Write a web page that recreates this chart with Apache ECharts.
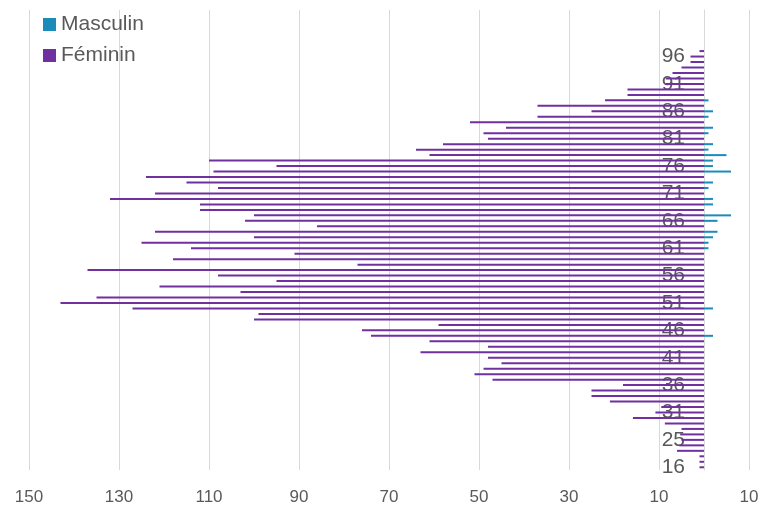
<!DOCTYPE html>
<html>
<head>
<meta charset="utf-8">
<script src="https://cdn.jsdelivr.net/npm/echarts@6/dist/echarts.min.js"></script>
<style>
html,body{margin:0;padding:0;background:#fff;}
#chart{width:763px;height:509px;}
</style>
</head>
<body>
<div id="chart"></div>
<script>
// Age categories (bottom to top)
const ages = [16,19,21,22,24,25,26,27,28,30,31,32,33,34,35,36,37,38,39,40,41,42,43,44,45,46,47,48,49,50,51,52,53,54,55,56,57,58,59,60,61,62,63,64,65,66,67,68,69,70,71,72,73,74,75,76,77,78,79,80,81,82,83,84,85,86,87,88,89,90,91,92,93,94,95,96,97];
// Féminin counts (drawn to the left)
const feminin = [1,1,1,6,5.5,5,5.3,5,8.7,15.8,10.8,9.5,20.9,25,25,18,47,51,49,45,48,63,48,61,74,76,59,100,99,127,143,135,103,121,95,108,137,77,118,91,114,125,100,122,86,102,100,112,112,132,122,108,115,124,109,95,110,61,64,58,48,49,44,52,37,25,37,22,17,17,8.5,8.5,7,5,3,3,1];
// Masculin counts (drawn to the right), keyed by age
const masculinAges = [45,50,61,62,63,64,66,67,69,70,72,73,75,76,77,78,79,80,82,83,85,86,88];
const masculinVals = [2,2,1,1,2,3,3,6,2,2,1,2,6,2,2,5,1,2,1,2,1,2,1];
// Axis ticks
const xMin = -150, xMax = 10, xStep = 20;
const emptyTopSlots = 7;

const cats = ages.map(String).concat(Array(emptyTopSlots).fill(''));
const femData = feminin.map(v => -v);
const masData = ages.map(a => {
  const i = masculinAges.indexOf(a);
  return i >= 0 ? masculinVals[i] : null;
});

const W = 763, gridLeft = 29, gridRight = 14;
const plotW = W - gridLeft - gridRight;
const zeroOffset = plotW * (0 - xMin) / (xMax - xMin);

const chart = echarts.init(document.getElementById('chart'));
chart.setOption({
  animation: false,
  backgroundColor: '#ffffff',
  textStyle: {fontFamily: 'Liberation Sans, Noto Sans, sans-serif'},
  grid: {left: gridLeft, right: gridRight, top: 10, bottom: 39, containLabel: false, outerBoundsMode: 'none'},
  legend: {
    orient: 'vertical', left: 43, top: 14, padding: 0,
    icon: 'rect', itemWidth: 13, itemHeight: 13, itemGap: 10,
    textStyle: {fontSize: 21, color: '#595959'},
    data: ['Masculin', 'Féminin']
  },
  xAxis: {
    type: 'value', min: xMin, max: xMax, interval: xStep,
    axisLine: {show: false}, axisTick: {show: false},
    axisLabel: {fontSize: 17, color: '#595959', margin: 19, formatter: v => Math.abs(v)},
    splitLine: {lineStyle: {color: '#d9d9d9', width: 1}}
  },
  yAxis: {
    type: 'category', data: cats, position: 'left', offset: -zeroOffset,
    axisLine: {onZero: false, lineStyle: {color: '#d9d9d9'}},
    axisTick: {show: false},
    axisLabel: {interval: 4, fontSize: 21, color: '#595959', margin: 19}
  },
  series: [
    {name: 'Masculin', type: 'bar', data: masData, barWidth: 2, barGap: '-100%',
     itemStyle: {color: '#1B8BBA'}},
    {name: 'Féminin', type: 'bar', data: femData, barWidth: 2, barGap: '-100%',
     itemStyle: {color: '#7030A0'}}
  ]
});
</script>
</body>
</html>
